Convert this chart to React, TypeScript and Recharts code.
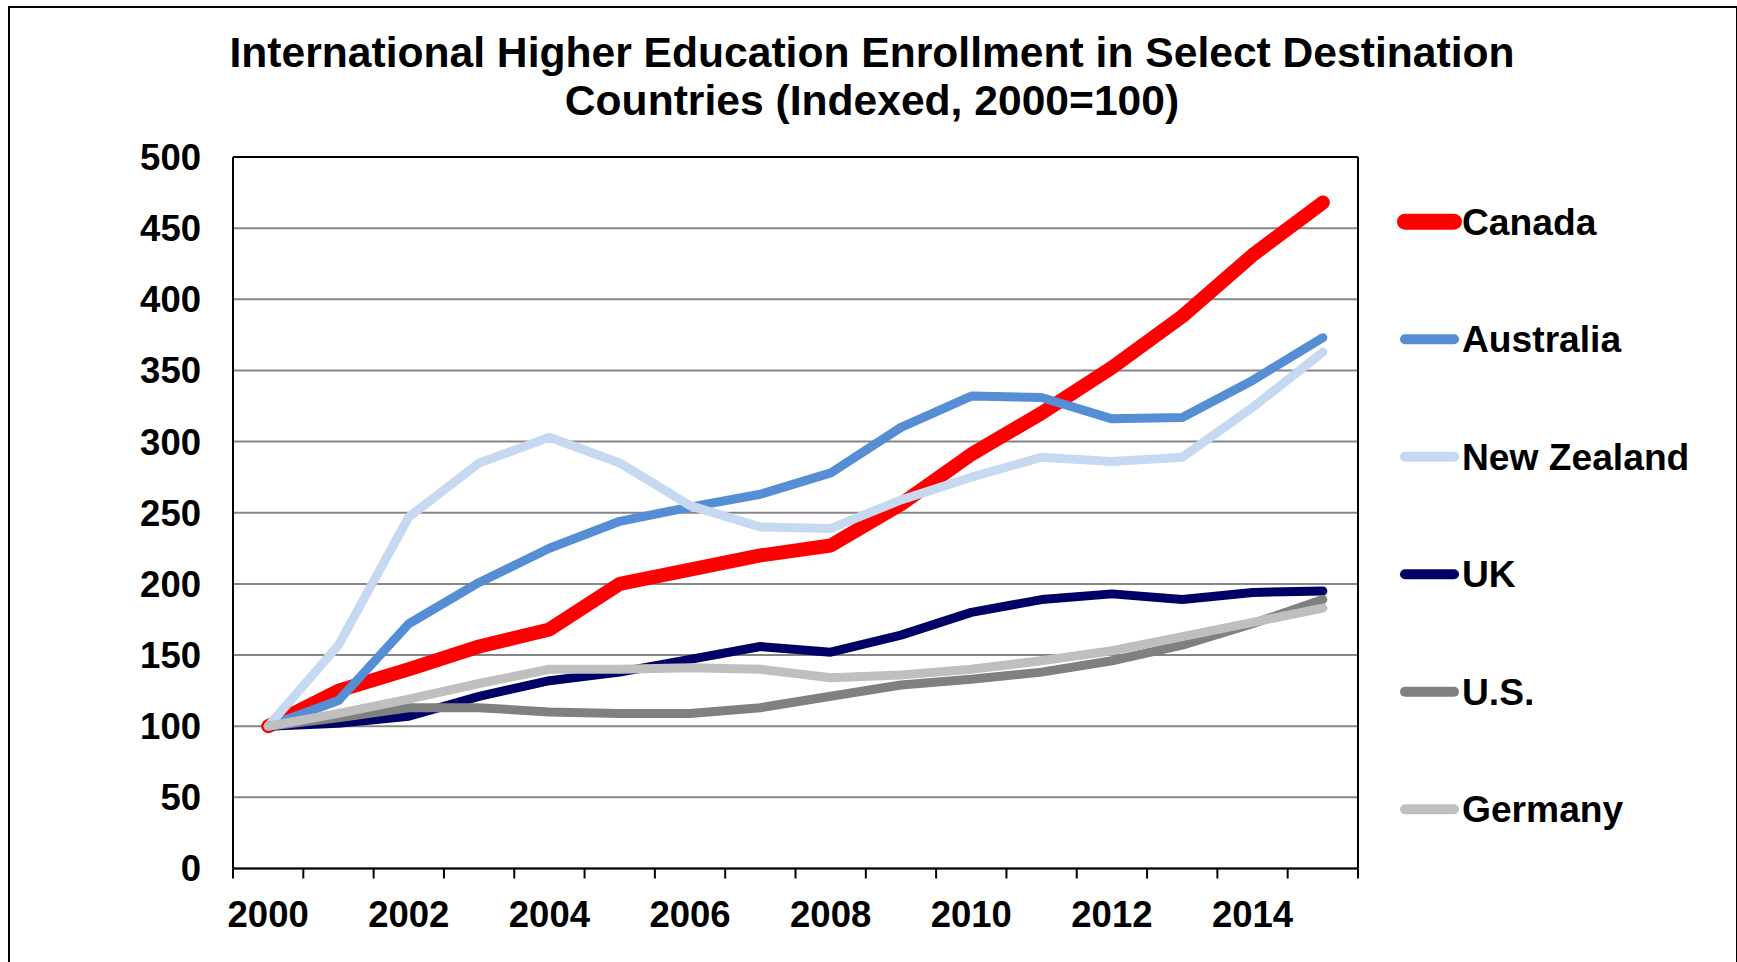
import { LineChart, Line, XAxis, YAxis, CartesianGrid, ReferenceLine } from 'recharts'

const years = [2000, 2001, 2002, 2003, 2004, 2005, 2006, 2007, 2008, 2009, 2010, 2011, 2012, 2013, 2014, 2015]
const canada = [100, 125, 140, 156, 168, 200, 210, 220, 227, 256, 291, 320, 352, 388, 431, 468]
const australia = [100, 118, 172, 201, 225, 244, 254, 263, 278, 310, 332, 331, 316, 317, 343, 373]
const newZealand = [100, 157, 247, 285, 303, 285, 255, 240, 239, 259, 275, 289, 286, 289, 324, 363]
const uk = [100, 102, 107, 121, 132, 138, 147, 156, 152, 164, 180, 189, 193, 189, 194, 195]
const us = [100, 106, 113, 113, 110, 109, 109, 113, 121, 129, 133, 138, 146, 157, 172, 189]
const germany = [100, 109, 119, 130, 140, 140, 141, 140, 134, 136, 140, 146, 153, 163, 173, 183]

const yTicks = [0, 50, 100, 150, 200, 250, 300, 350, 400, 450, 500]
const xLabelYears = [2000, 2002, 2004, 2006, 2008, 2010, 2012, 2014]
const xTickMarks = [1999.5, 2000.5, 2001.5, 2002.5, 2003.5, 2004.5, 2005.5, 2006.5, 2007.5, 2008.5, 2009.5, 2010.5, 2011.5, 2012.5, 2013.5, 2014.5, 2015.5]

const series = [
  { key: 'canada', name: 'Canada', color: '#FF0000', width: 14 },
  { key: 'australia', name: 'Australia', color: '#558ED5', width: 9 },
  { key: 'newZealand', name: 'New Zealand', color: '#C6D9F1', width: 9 },
  { key: 'uk', name: 'UK', color: '#000066', width: 9 },
  { key: 'us', name: 'U.S.', color: '#808080', width: 9 },
  { key: 'germany', name: 'Germany', color: '#BFBFBF', width: 9 },
]

const data = years.map((year, i) => ({
  year,
  canada: canada[i],
  australia: australia[i],
  newZealand: newZealand[i],
  uk: uk[i],
  us: us[i],
  germany: germany[i],
}))

const font = 'Arial, "Liberation Sans", sans-serif'

function XTick(props: any) {
  const { x, y, payload } = props
  const v = payload.value
  if (!Number.isInteger(v)) {
    return <line x1={x} y1={y} x2={x} y2={y + 10} stroke="#000" strokeWidth={2} />
  }
  if (!xLabelYears.includes(v)) return null
  return (
    <text x={x} y={y + 58} textAnchor="middle" fontSize={36.5} fontWeight="bold" fill="#000" fontFamily={font}>
      {v}
    </text>
  )
}

export default function App() {
  const allTicks = [...xTickMarks, ...xLabelYears].sort((a, b) => a - b)
  return (
    <div style={{ position: 'absolute', left: 0, top: 0, width: 1737, height: 962, overflow: 'hidden', background: '#fff' }}>
      <div style={{ position: 'absolute', left: 8, top: 6, width: 1726, height: 1000, border: '2px solid #000' }} />
      <svg style={{ position: 'absolute', left: 0, top: 0 }} width={1737} height={140}>
        <text x={872} y={67} textAnchor="middle" fontSize={42.6} fontWeight="bold" fontFamily={font} fill="#000">
          International Higher Education Enrollment in Select Destination
        </text>
        <text x={872} y={115} textAnchor="middle" fontSize={42.6} fontWeight="bold" fontFamily={font} fill="#000">
          Countries (Indexed, 2000=100)
        </text>
      </svg>
      <div style={{ position: 'absolute', left: 0, top: 0 }}>
        <LineChart width={1737} height={962} data={data} margin={{ top: 157, right: 379, bottom: 33.5, left: 133 }}>
          <CartesianGrid vertical={false} stroke="#868686" strokeWidth={2} />
          <XAxis
            dataKey="year"
            type="number"
            domain={[1999.5, 2015.5]}
            ticks={allTicks}
            interval={0}
            tick={<XTick />}
            tickLine={false}
            tickSize={0}
            tickMargin={0}
            height={60}
            axisLine={{ stroke: '#000', strokeWidth: 2 }}
          />
          <YAxis
            domain={[0, 500]}
            ticks={yTicks}
            interval={0}
            width={100}
            tickLine={false}
            tickSize={0}
            tickMargin={32}
            axisLine={{ stroke: '#000', strokeWidth: 2 }}
            tick={{ fontSize: 36.5, fontWeight: 'bold', fill: '#000', fontFamily: font }}
          />
          <ReferenceLine y={500} stroke="#000" strokeWidth={2} />
          <ReferenceLine x={2015.5} stroke="#000" strokeWidth={2} />
          {series.map((s) => (
            <Line
              key={s.key}
              dataKey={s.key}
              name={s.name}
              type="linear"
              stroke={s.color}
              strokeWidth={s.width}
              strokeLinecap="round"
              strokeLinejoin="round"
              dot={false}
              activeDot={false}
              isAnimationActive={false}
            />
          ))}
        </LineChart>
      </div>
      <svg style={{ position: 'absolute', left: 0, top: 0 }} width={1737} height={962}>
        {series.map((s, i) => {
          const cy = 221.7 + i * 117.5
          return (
            <g key={s.key}>
              <line x1={1405} y1={cy} x2={1454} y2={cy} stroke={s.color} strokeWidth={s.width === 14 ? 16 : 10} strokeLinecap="round" />
              <text x={1462} y={cy + 13} fontSize={37.2} fontWeight="bold" fontFamily={font} fill="#000">
                {s.name}
              </text>
            </g>
          )
        })}
      </svg>
    </div>
  )
}
